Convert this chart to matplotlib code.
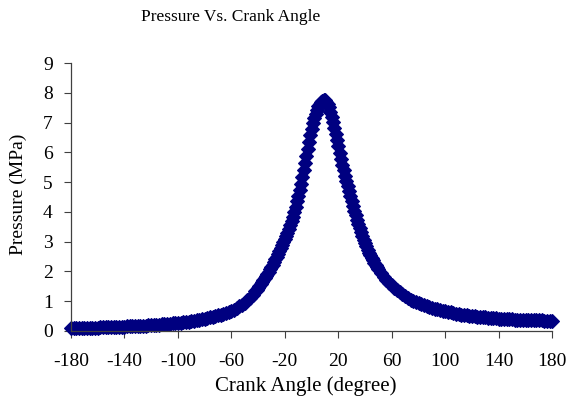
import numpy as np
from matplotlib import pyplot as plt

plt.rcParams['font.family'] = ['Liberation Serif', 'DejaVu Serif']
plt.rcParams['axes.unicode_minus'] = False

# crank angle (degree) and pressure (MPa)
angle_tail_left = list(range(-180, -61, 2))
p_tail_left = [0.10, 0.10, 0.10, 0.10, 0.10, 0.11, 0.11, 0.11, 0.11, 0.11,
               0.11, 0.12, 0.12, 0.12, 0.12, 0.13, 0.13, 0.13, 0.13, 0.14,
               0.14, 0.15, 0.15, 0.16, 0.16, 0.17, 0.17, 0.18, 0.18, 0.19,
               0.19, 0.20, 0.20, 0.21, 0.22, 0.22, 0.23, 0.24, 0.25, 0.26,
               0.27, 0.28, 0.29, 0.30, 0.31, 0.33, 0.34, 0.36, 0.37, 0.39,
               0.41, 0.43, 0.45, 0.47, 0.50, 0.52, 0.55, 0.58, 0.61, 0.64]

angle_rise = list(range(-60, -41, 2))
p_rise = [0.67, 0.71, 0.76, 0.82, 0.88, 0.95, 1.03, 1.12, 1.22, 1.33]

angle_core = list(range(-41, 51))
p_core = [1.39, 1.45, 1.51, 1.58, 1.64, 1.71, 1.78, 1.85, 1.92, 1.99,
          2.07, 2.15, 2.23, 2.31, 2.40, 2.49, 2.58, 2.68, 2.78, 2.88,
          2.98, 3.08, 3.19, 3.30, 3.42, 3.55, 3.69, 3.84, 4.00, 4.17,
          4.35, 4.54, 4.74, 4.95, 5.17, 5.40, 5.64, 5.88, 6.12, 6.36,
          6.58, 6.79, 6.98, 7.15, 7.30, 7.43, 7.54, 7.63, 7.70, 7.74,
          7.76, 7.75, 7.70, 7.62, 7.51, 7.37, 7.20, 7.02, 6.82, 6.62,
          6.41, 6.20, 5.98, 5.76, 5.58, 5.40, 5.22, 5.04, 4.86, 4.69,
          4.52, 4.36, 4.20, 4.04, 3.89, 3.74, 3.59, 3.45, 3.32, 3.19,
          3.07, 2.95, 2.84, 2.73, 2.63, 2.54, 2.45, 2.37, 2.29, 2.21,
          2.14, 2.07]

angle_fall = list(range(52, 81, 2))
p_fall = [1.94, 1.82, 1.71, 1.62, 1.53, 1.45, 1.38, 1.31, 1.25, 1.16,
          1.10, 1.05, 1.00, 0.96, 0.92]

angle_tail_right = list(range(82, 181, 2))
p_tail_right = [0.89, 0.86, 0.83, 0.80, 0.77, 0.75, 0.72, 0.70, 0.68, 0.66,
                0.64, 0.62, 0.60, 0.58, 0.56, 0.55, 0.53, 0.52, 0.51, 0.50,
                0.49, 0.48, 0.47, 0.46, 0.45, 0.44, 0.43, 0.42, 0.42, 0.41,
                0.41, 0.40, 0.40, 0.39, 0.39, 0.38, 0.38, 0.37, 0.37, 0.36,
                0.36, 0.36, 0.35, 0.35, 0.35, 0.35, 0.34, 0.34, 0.34, 0.34]

angle = angle_tail_left + angle_rise + angle_core + angle_fall + angle_tail_right
pressure = p_tail_left + p_rise + p_core + p_fall + p_tail_right

xticks = list(range(-180, 181, 40))
yticks = list(range(0, 10))

fig = plt.figure(figsize=(5.67, 4.04), dpi=100)
ax = fig.add_axes([0.125, 0.181, 0.849, 0.663])

ax.plot(angle, pressure, linestyle='none', marker='D', markersize=7.5,
        color='#000080', markeredgecolor='#000080', markeredgewidth=0.8,
        clip_on=False)

ax.set_xlim(-180, 180)
ax.set_ylim(0, 9)
ax.set_xticks(xticks)
ax.set_yticks(yticks)
ax.tick_params(direction='out', length=5, width=0.8, color='#404040',
               labelsize=14)
ax.tick_params(axis='x', pad=11)
ax.tick_params(axis='y', pad=8)
for s in ['top', 'right']:
    ax.spines[s].set_visible(False)
for s in ['left', 'bottom']:
    ax.spines[s].set_color('#404040')
    ax.spines[s].set_linewidth(0.9)

fig.text(0.407, 0.958, 'Pressure Vs. Crank Angle', ha='center', va='center',
         fontsize=12.5)
fig.text(0.54, 0.045, 'Crank Angle (degree)', ha='center', va='center',
         fontsize=15)
fig.text(0.032, 0.52, 'Pressure (MPa)', ha='center', va='center',
         rotation=90, fontsize=14)

fig.savefig('out.png', dpi=100)
